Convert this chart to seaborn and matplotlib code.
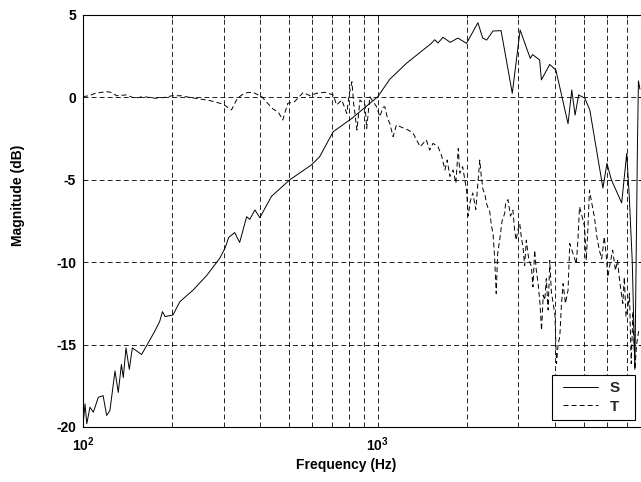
import matplotlib
matplotlib.use("Agg")
import numpy as np
import pandas as pd
import seaborn as sns
import matplotlib.pyplot as plt
from matplotlib.legend_handler import HandlerLine2D
from matplotlib.ticker import FixedLocator, LogLocator, NullFormatter, FuncFormatter

# Magnitude response S (solid)
s_freq = [100, 101.6, 103, 105.6, 108.4, 112.7, 117, 120.3, 123.4, 128.4, 131.7, 135, 137,
          139.9, 143.6, 147, 158, 164, 175, 182, 186, 190, 202, 213, 236, 263, 291, 303,
          312, 327, 340, 359, 368, 383, 398, 436, 503, 595, 635, 706, 817, 940, 1000, 1098,
          1251, 1520, 1560, 1600, 1665, 1760, 1870, 2000, 2186, 2270, 2340, 2460, 2620,
          2859, 3040, 3290, 3350, 3540, 3590, 3830, 4020, 4420, 4550, 4670, 4800, 5040,
          5240, 5804, 5990, 6200, 6720, 6990, 7130, 7300, 7450, 7600, 7660, 7750]
s_mag = [-19.9, -18.6, -19.8, -18.8, -19.1, -18.2, -18.1, -19.3, -19.0, -16.6, -17.9, -16.2,
         -17.0, -15.2, -16.5, -15.2, -15.6, -15.1, -14.2, -13.6, -13.0, -13.3, -13.2, -12.4,
         -11.7, -10.8, -9.76, -9.16, -8.5, -8.2, -8.8, -7.24, -7.4, -6.83, -7.3, -6.0, -5.0,
         -4.1, -3.6, -2.08, -1.27, -0.36, 0.04, 1.1, 2.07, 3.28, 3.5, 3.3, 3.65, 3.34, 3.6,
         3.28, 4.53, 3.6, 3.48, 4.03, 4.05, 0.25, 4.09, 2.37, 2.6, 2.27, 1.06, 2.0, 1.66,
         -1.6, 0.45, -1.07, 0.15, -0.05, -0.77, -5.5, -4.0, -5.0, -6.4, -3.4, -6.0, -10.0,
         -16.5, -3.0, 1.0, 0.5]

# Magnitude response T (dashed)
t_freq = [100, 105, 110, 115, 120, 125, 130, 140, 150, 160, 175, 190, 200, 215, 230, 250,
          270, 298, 319, 334, 346, 362, 378, 404, 420, 441, 460, 476, 495, 522, 558, 590,
          619, 661, 706, 725, 755, 785, 800, 817, 828, 850, 870, 905, 917, 940, 990, 1016,
          1042, 1056, 1080, 1098, 1127, 1157, 1200, 1269, 1318, 1392, 1461, 1500, 1539,
          1600, 1644, 1690, 1720, 1756, 1802, 1840, 1875, 1898, 1940, 1974, 2000, 2026,
          2060, 2100, 2150, 2218, 2245, 2275, 2306, 2335, 2365, 2398, 2430, 2460, 2490,
          2522, 2550, 2591, 2640, 2694, 2715, 2765, 2820, 2873, 2910, 2946, 3000, 3031,
          3070, 3108, 3150, 3190, 3250, 3320, 3360, 3406, 3450, 3499, 3550, 3594, 3640,
          3685, 3730, 3783, 3833, 3880, 3934, 3990, 4040, 4090, 4145, 4200, 4253, 4330,
          4420, 4480, 4600, 4715, 4780, 4835, 4930, 5029, 5095, 5160, 5225, 5330, 5430,
          5540, 5645, 5750, 5866, 5950, 6030, 6150, 6265, 6400, 6510, 6600, 6680, 6780,
          6860, 6950, 7050, 7140, 7240, 7340, 7450, 7550, 7700]
t_mag = [0.05, 0.1, 0.25, 0.3, 0.35, 0.3, 0.1, 0.15, -0.05, 0.05, -0.05, 0.0, 0.1, 0.1, 0.0,
         -0.1, -0.2, -0.4, -0.76, -0.05, 0.15, 0.3, 0.3, 0.05, -0.3, -0.7, -0.9, -1.37,
         -0.36, -0.26, 0.29, 0.1, 0.25, 0.31, 0.15, -0.46, -0.16, -0.97, 0.2, 0.95, -0.36,
         -1.98, -0.16, -0.46, -1.88, 0.04, -0.56, -1.17, -0.6, -0.56, -1.3, -1.57, -2.38,
         -1.67, -1.8, -1.98, -2.18, -2.99, -2.58, -3.2, -2.79, -2.99, -3.5, -4.4, -3.8,
         -4.8, -4.4, -5.2, -3.1, -4.6, -4.2, -5.0, -5.6, -7.2, -6.3, -5.8, -6.8, -3.8, -4.8,
         -5.6, -5.83, -6.4, -6.7, -6.94, -7.8, -8.26, -9.68, -11.9, -9.5, -8.66, -7.5,
         -7.04, -6.4, -6.2, -7.2, -6.84, -8.0, -8.66, -7.9, -7.65, -8.5, -9.07, -10.2,
         -8.66, -9.8, -10.28, -11.5, -9.27, -10.5, -11.3, -12.5, -14.13, -12.0, -12.3,
         -11.0, -12.9, -9.9, -11.8, -12.5, -13.2, -16.15, -15.0, -14.5, -12.5, -11.3,
         -12.5, -11.7, -8.87, -9.5, -10.1, -8.5, -6.64, -7.2, -7.85, -9.88, -8.0, -5.63,
         -6.5, -7.25, -8.5, -9.27, -9.8, -8.46, -9.5, -10.9, -10.0, -9.27, -10.5, -9.88,
         -11.0, -11.7, -12.5, -10.9, -13.3, -12.8, -11.9, -16.15, -13.0, -16.5, -15.0, -14.0]

y_ticks = [-20, -15, -10, -5, 0, 5]
series_labels = ["S", "T"]

sns.set_theme(style="white")
plt.rcParams["font.family"] = ["Liberation Sans", "DejaVu Sans"]
plt.rcParams["font.weight"] = "bold"
plt.rcParams["axes.labelweight"] = "bold"
plt.rcParams["axes.unicode_minus"] = False
plt.rcParams["lines.scale_dashes"] = False
plt.rcParams["mathtext.fontset"] = "custom"
plt.rcParams["mathtext.bf"] = "Liberation Sans:bold"
plt.rcParams["mathtext.rm"] = "Liberation Sans:bold"

dash = (0, (3.6, 2.2))

fig = plt.figure(figsize=(6.41, 4.82), dpi=100)
ax = fig.add_axes([83 / 641, 55 / 482, 561 / 641, 412 / 482])

sns.lineplot(x=s_freq, y=s_mag, ax=ax, color="black", linewidth=0.7,
             estimator=None, sort=False, label=series_labels[0])
sns.lineplot(x=t_freq, y=t_mag, ax=ax, color="black", linewidth=0.7,
             linestyle=dash, estimator=None, sort=False, label=series_labels[1])

ax.set_xscale("log")
ax.set_xlim(100, 8000)
ax.set_ylim(-20, 5)
ax.yaxis.set_major_locator(FixedLocator(y_ticks))
ax.xaxis.set_major_locator(FixedLocator([100, 1000]))
ax.xaxis.set_minor_locator(LogLocator(base=10, subs=range(2, 10)))
ax.xaxis.set_minor_formatter(NullFormatter())
ax.xaxis.set_major_formatter(FuncFormatter(
    lambda v, p: r"$\mathbf{10^{%d}}$" % int(round(np.log10(v)))))

ax.grid(True, which="both", axis="x", color="black", linestyle=dash, linewidth=0.6)
ax.grid(True, which="major", axis="y", color="black", linestyle=dash, linewidth=0.6)

for sp in ax.spines.values():
    sp.set_color("black")
    sp.set_linewidth(0.8)

ax.tick_params(axis="both", which="both", direction="in", top=True, right=True,
               colors="black", labelsize=10, width=0.6)
ax.tick_params(axis="both", which="major", length=4)
ax.tick_params(axis="x", which="minor", length=2.5)
ax.tick_params(axis="x", which="major", pad=6)
ax.tick_params(axis="y", which="major", pad=5)
for lab in ax.get_yticklabels():
    lab.set_fontweight("bold")

ax.set_xlabel("Frequency (Hz)", fontsize=10, fontweight="bold", color="black")
ax.set_ylabel("Magnitude (dB)", fontsize=10, fontweight="bold", color="black")
ax.xaxis.set_label_coords(0.4697, -0.0752)
ax.yaxis.set_label_coords(-0.1034, 0.563)

# Legend: short inset line samples and a roomy text column
handles, labels = ax.get_legend_handles_labels()
leg = ax.legend(handles, [lab + "  " for lab in labels],
                loc="lower left", bbox_to_anchor=(552 / 641, 62 / 482),
                bbox_transform=fig.transFigure, frameon=True, fancybox=False,
                edgecolor="black", framealpha=1, borderaxespad=0, fontsize=11,
                handlelength=2.6, handletextpad=0.78, borderpad=0.41,
                labelspacing=0.3,
                handler_map={h: HandlerLine2D(xpad=0.31) for h in handles})
leg.get_frame().set_linewidth(0.8)
for txt in leg.get_texts():
    txt.set_fontweight("bold")

fig.savefig("out.png", dpi=100)
